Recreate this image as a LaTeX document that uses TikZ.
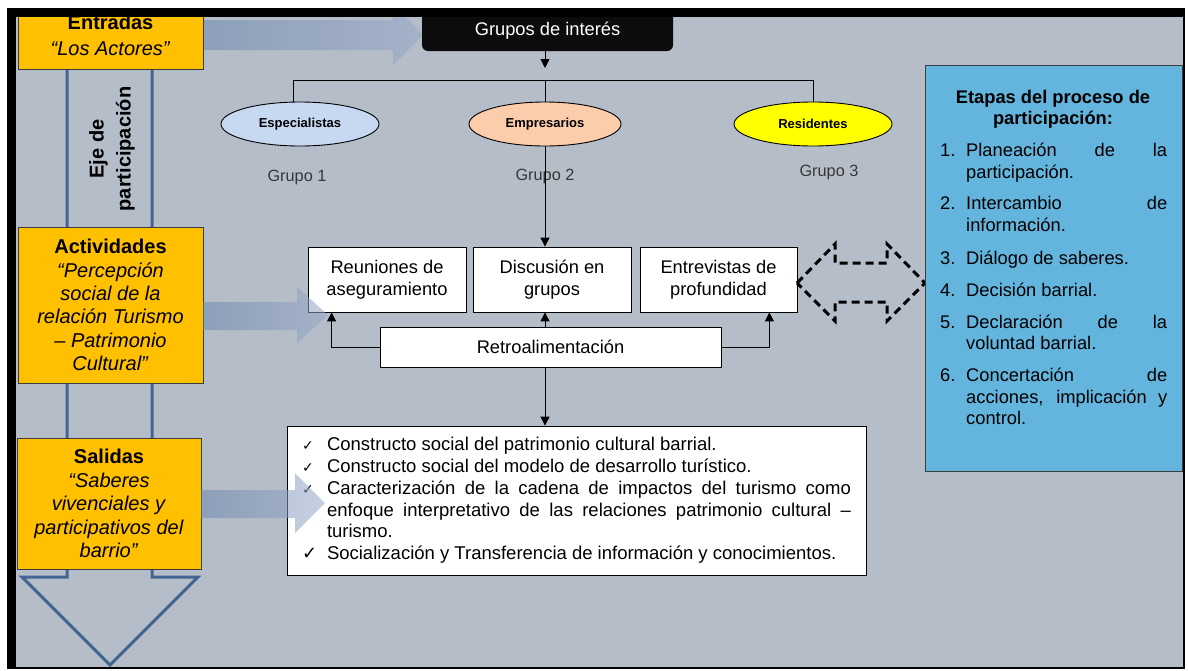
\documentclass[tikz,border=0pt]{standalone}
\usepackage{fontspec}
\setmainfont{Liberation Sans}
\newfontfamily\symf{DejaVu Sans}
\usetikzlibrary{arrows.meta,shapes.geometric,calc}
\definecolor{bgc}{RGB}{181,189,201}
\definecolor{yel}{RGB}{255,192,0}
\definecolor{axisc}{RGB}{66,101,146}
\definecolor{arrowc}{RGB}{110,135,174}
\definecolor{arrowl}{RGB}{150,170,200}
\definecolor{skyc}{RGB}{99,181,221}
\definecolor{espc}{RGB}{198,217,241}
\definecolor{empc}{RGB}{251,205,170}
\definecolor{resc}{RGB}{255,255,0}
\definecolor{gblk}{RGB}{12,12,12}
\definecolor{grayt}{RGB}{55,55,55}
\definecolor{bordc}{RGB}{60,60,60}
\newcommand\fz[2]{\fontsize{#1}{#2}\selectfont}
\newcommand\ck{{\symf\fontsize{14}{14}\selectfont ✓}}
\newcommand\ckb{{\symf\fontsize{18}{18}\selectfont ✓}}
\begin{document}
\begin{tikzpicture}[x=1pt,y=-1pt,
  ybox/.style={draw=bordc, fill=yel, line width=0.8pt, align=center, inner sep=0pt},
  wbox/.style={draw=black, fill=white, line width=0.8pt, align=center, inner sep=0pt, font=\fz{18.3}{22}},
  grp/.style={ellipse, draw=black, line width=0.9pt, inner sep=0pt, minimum height=44pt, font=\bfseries\fz{13}{15}},
  conn/.style={draw=black, line width=0.9pt},
  arr/.style={conn, -{Triangle[length=9pt,width=9pt]}},
  blk/.style={left color=arrowc, right color=arrowl, opacity=0.55},
  glab/.style={text=grayt, font=\fz{16.3}{18}},
  ln/.style={anchor=base west, inner sep=0pt, font=\fz{18.3}{22}},
  dbl/.style={draw=black, line width=3pt, dash pattern=on 8pt off 5pt, line join=miter}
]
\useasboundingbox (0,0) rectangle (1188,670);
\fill[white] (0,0) rectangle (1188,670);
\fill[black] (7,8) rectangle (1185,669);
\fill[bgc] (16,17) rectangle (1183,667);

\begin{scope}
\clip (16,17) rectangle (1183,667);

% vertical axis arrow
\draw[axisc, line width=3pt, line join=miter] (67,60) -- (67,577) -- (22,577) -- (110,665) -- (198,577) -- (152,577) -- (152,60);
\node[rotate=90, align=center, font=\bfseries\fz{20}{27}] (eje) at (112,149) {Eje de\\participación};

% top block arrow
\shade[blk] (203,20) -- (393,20) -- (393,5) -- (423,35) -- (393,65) -- (393,50) -- (203,50) -- cycle;

% left yellow boxes
\node[ybox, minimum width=185pt, minimum height=68pt, font=\fz{20}{26}] (entr) at (110.5,35)
  {\textbf{Entradas}\\\textit{“Los Actores”}};
\node[ybox, minimum width=185pt, minimum height=156pt, font=\fz{20}{23.4}] (act) at (110.5,305)
  {\textbf{Actividades}\\\textit{“Percepción}\\\textit{social de la}\\\textit{relación Turismo}\\\textit{– Patrimonio}\\\textit{Cultural”}};
\node[ybox, minimum width=184pt, minimum height=131pt, font=\fz{20}{23.5}] (sal) at (109,503.5)
  {\textbf{Salidas}\\\textit{“Saberes}\\\textit{vivenciales y}\\\textit{participativos del}\\\textit{barrio”}};

% Grupos de interes
\node[fill=gblk, rounded corners=6pt, minimum width=251pt, minimum height=41pt, inner sep=0pt,
  text=white, font=\fz{18.3}{22}] (gi) at (547.5,30.5) {Grupos de interés};

\coordinate (hl) at (293,80);
\coordinate (hm) at (545,80);
\coordinate (hr) at (813,80);
\draw[arr] (gi.south -| hm) -- ($(hm)+(0,-12)$);
\draw[conn] (hl) -- (hr);

\node[grp, fill=espc, minimum width=158pt] (esp) at (300,124) {Especialistas};
\node[grp, fill=empc, minimum width=152pt] (emp) at (545,124) {Empresarios};
\node[grp, fill=resc, minimum width=158pt] (res) at (813,124) {Residentes};
\draw[conn] (hl) -- (hl |- esp.north);
\draw[conn] (hm) -- (emp.north);
\draw[conn] (hr) -- (res.north);

\node[glab] (g1) at (297,177) {Grupo 1};
\node[glab] (g2) at (545,176) {Grupo 2};
\node[glab] (g3) at (829,172) {Grupo 3};

% activity boxes
\node[wbox, minimum width=158pt, minimum height=65pt] (reu) at (387,279.5) {Reuniones de\\aseguramiento};
\node[wbox, minimum width=158pt, minimum height=65pt] (dis) at (552,279.5) {Discusión en\\grupos};
\node[wbox, minimum width=157pt, minimum height=65pt] (ent) at (718.5,279.5) {Entrevistas de\\profundidad};
\node[wbox, minimum width=341pt, minimum height=40pt] (retro) at (550.5,347) {Retroalimentación};

\draw[arr] (emp.south) -- (emp.south |- dis.north);
\draw[arr] (retro.west) -| ($(reu.south west)+(24,0)$);
\draw[arr] (retro.east) -| ($(ent.south east)+(-28,0)$);
\draw[arr] (retro.north -| hm) -- (dis.south -| hm);

% output box
\node[wbox, minimum width=579pt, minimum height=149pt, text width=549pt, inner xsep=15pt,
  align=left, font=\fz{18.5}{21.8}] (out) at (576.5,500.5) {%
\spaceskip=0pt\xspaceskip=0pt\relax
\makebox[25pt][l]{\ck}Constructo social del patrimonio cultural barrial.\\
\makebox[25pt][l]{\ck}Constructo social del modelo de desarrollo turístico.\\
\makebox[25pt][l]{\ck}\makebox[524pt][s]{Caracterización de la cadena de impactos del turismo como}\\
\hspace*{25pt}\makebox[524pt][s]{enfoque interpretativo de las relaciones patrimonio cultural –}\\
\hspace*{25pt}turismo.\\
\makebox[25pt][l]{\ckb}Socialización y Transferencia de información y conocimientos.};
\draw[arr] (retro.south -| hm) -- (out.north -| hm);

% translucent block arrows
\shade[blk] (203,302) -- (297,302) -- (297,287) -- (328,315) -- (297,343) -- (297,330) -- (203,330) -- cycle;
\shade[blk] (201,490) -- (295,490) -- (295,473) -- (325,503) -- (295,533) -- (295,518) -- (201,518) -- cycle;

% dashed double arrow
\draw[dbl] (797,283) -- (835,244) -- (835,263) -- (887,263) -- (887,244) -- (925,283)
  -- (887,321) -- (887,302) -- (835,302) -- (835,321) -- cycle;

% stages box
\node[draw=bordc, fill=skyc, line width=0.9pt, minimum width=257pt, minimum height=406pt, inner sep=0pt] (stg) at (1053.5,268.5) {};
\node[align=center, inner sep=0pt, font=\bfseries\fz{18.3}{21}, anchor=base] (st1) at (1053,124) {Etapas del proceso de\\participación:};

\node[ln] (n1) at (940,156) {1.};
\node[ln] (l1a) at (966,156) {\makebox[201pt][s]{Planeación de la}};
\node[ln] (l1b) at (966,178) {participación.};
\node[ln] (n2) at (940,209) {2.};
\node[ln] (l2a) at (966,209) {\makebox[201pt][s]{Intercambio de}};
\node[ln] (l2b) at (966,231) {información.};
\node[ln] (n3) at (940,264) {3.};
\node[ln] (l3a) at (966,264) {Diálogo de saberes.};
\node[ln] (n4) at (940,296) {4.};
\node[ln] (l4a) at (966,296) {Decisión barrial.};
\node[ln] (n5) at (940,328) {5.};
\node[ln] (l5a) at (966,328) {\makebox[201pt][s]{Declaración de la}};
\node[ln] (l5b) at (966,349) {voluntad barrial.};
\node[ln] (n6) at (940,381) {6.};
\node[ln] (l6a) at (966,381) {\makebox[201pt][s]{Concertación de}};
\node[ln] (l6b) at (966,403) {\makebox[201pt][s]{acciones, implicación y}};
\node[ln] (l6c) at (966,424) {control.};
\end{scope}
\end{tikzpicture}
\end{document}
